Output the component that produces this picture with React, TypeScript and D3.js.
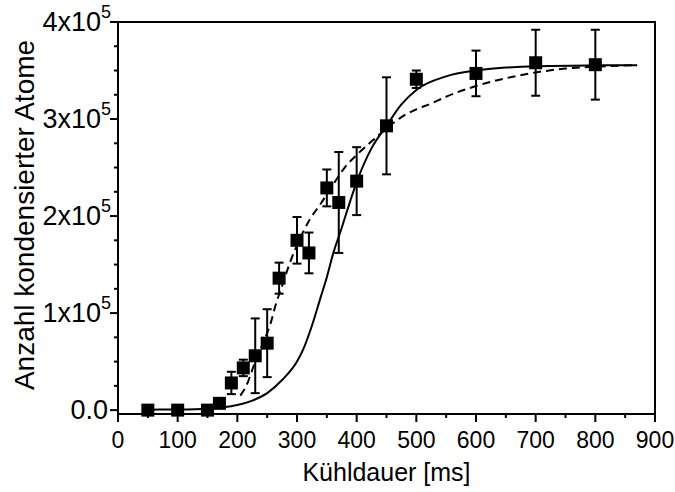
import React from "react";
import * as d3 from "d3";

// Measured data: cooling duration (ms) vs number of condensed atoms
const times = [50, 100, 150, 170, 190, 210, 230, 250, 270, 300, 320, 350, 370, 400, 450, 500, 600, 700, 800];
const atoms = [0, 0, 0, 7000, 28000, 43500, 56000, 69000, 136000, 175000, 162000, 229000, 214000, 236000, 293000, 341000, 347000, 358000, 356000];
const errors = [0, 0, 0, 2000, 11500, 8500, 38500, 35000, 16000, 24000, 21000, 19000, 52000, 35000, 50000, 9000, 23500, 34000, 36000];

// Fit curves
const solidX = [50, 100, 150, 175, 200, 225, 250, 275, 300, 310, 325, 340, 350, 360, 375, 390, 400, 425, 450, 475, 500, 550, 600, 650, 700, 800, 870];
const solidY = [500, 700, 1500, 2800, 5200, 9800, 17500, 31000, 50000, 62000, 87000, 117000, 137000, 160000, 188000, 217000, 235000, 270000, 293000, 315000, 330000, 344000, 350000, 353000, 354500, 355300, 355500];
const dashX = [205, 215, 230, 245, 255, 265, 275, 287, 300, 320, 340, 360, 380, 400, 425, 450, 475, 500, 525, 550, 600, 650, 700, 750, 800, 870];
const dashY = [15000, 25000, 50000, 72000, 88000, 110000, 128000, 150000, 170000, 195000, 213000, 232000, 250000, 263000, 277000, 290000, 302000, 310000, 316000, 323000, 334000, 342000, 348000, 352000, 354000, 355500];

const xTicks = [0, 100, 200, 300, 400, 500, 600, 700, 800, 900];
const xMinorTicks = [50, 150, 250, 350, 450, 550, 650, 750, 850];
const yTicks = [0, 100000, 200000, 300000, 400000];
const yTickMant = ["0.0", "1x10", "2x10", "3x10", "4x10"];
const yMinorTicks = [25000, 50000, 75000, 125000, 150000, 175000, 225000, 250000, 275000, 325000, 350000, 375000];

const FONT = "'Liberation Sans', Arial, sans-serif";

export default function App() {
  const W = 675, H = 492;
  const L = 118, R = 655, T = 22, B = 414;
  const x = d3.scaleLinear().domain([0, 900]).range([L, R]);
  const y = d3.scaleLinear().domain([-4000, 400000]).range([B, T]);

  const solid = d3.line<number>().x((d, i) => x(solidX[i])).y((d) => y(d)).curve(d3.curveMonotoneX)(solidY) || "";
  const dash = d3.line<number>().x((d, i) => x(dashX[i])).y((d) => y(d)).curve(d3.curveMonotoneX)(dashY) || "";

  const ms = 13;
  const cap = 4.5;

  return (
    <svg width={W} height={H} style={{ position: "absolute", left: 0, top: 0, background: "#fff" }} fontFamily={FONT}>
      <rect x={0} y={0} width={W} height={H} fill="#fff" />
      {/* curves */}
      <path d={solid} fill="none" stroke="#000" strokeWidth={2} />
      <path d={dash} fill="none" stroke="#000" strokeWidth={2} strokeDasharray="8,5" />
      {/* error bars */}
      {times.map((t, i) =>
        errors[i] > 0 ? (
          <g key={"e" + i} stroke="#000" strokeWidth={2}>
            <line x1={x(t)} x2={x(t)} y1={y(atoms[i] - errors[i])} y2={y(atoms[i] + errors[i])} />
            <line x1={x(t) - cap} x2={x(t) + cap} y1={y(atoms[i] + errors[i])} y2={y(atoms[i] + errors[i])} />
            <line x1={x(t) - cap} x2={x(t) + cap} y1={y(atoms[i] - errors[i])} y2={y(atoms[i] - errors[i])} />
          </g>
        ) : null
      )}
      {/* markers */}
      {times.map((t, i) => (
        <rect key={"m" + i} x={x(t) - ms / 2} y={y(atoms[i]) - ms / 2} width={ms} height={ms} fill="#000" />
      ))}
      {/* frame */}
      <rect x={L} y={T} width={R - L} height={B - T} fill="none" stroke="#000" strokeWidth={2} />
      {/* x ticks */}
      {xTicks.map((t) => (
        <g key={"xt" + t}>
          <line x1={x(t)} x2={x(t)} y1={B} y2={B + 8} stroke="#000" strokeWidth={2} />
          <text x={x(t)} y={B + 34} textAnchor="middle" fontSize={23}>{t}</text>
        </g>
      ))}
      {xMinorTicks.map((t) => (
        <line key={"xm" + t} x1={x(t)} x2={x(t)} y1={B} y2={B + 4} stroke="#000" strokeWidth={2} />
      ))}
      {/* y ticks */}
      {yTicks.map((v, i) => (
        <g key={"yt" + v}>
          <line x1={L - 8} x2={L} y1={y(v)} y2={y(v)} stroke="#000" strokeWidth={2} />
          <text x={i === 0 ? L - 10 : L - 7} y={y(v) + 9} textAnchor="end" fontSize={27}>
            {yTickMant[i]}
            {i > 0 ? <tspan dy={-13} fontSize={18}>5</tspan> : null}
          </text>
        </g>
      ))}
      {yMinorTicks.map((v) => (
        <line key={"ym" + v} x1={L - 4} x2={L} y1={y(v)} y2={y(v)} stroke="#000" strokeWidth={2} />
      ))}
      {/* axis titles */}
      <text x={(L + R) / 2} y={481} textAnchor="middle" fontSize={25}>Kühldauer [ms]</text>
      <text transform={`translate(34, 215) rotate(-90)`} textAnchor="middle" fontSize={28}>Anzahl kondensierter Atome</text>
    </svg>
  );
}
